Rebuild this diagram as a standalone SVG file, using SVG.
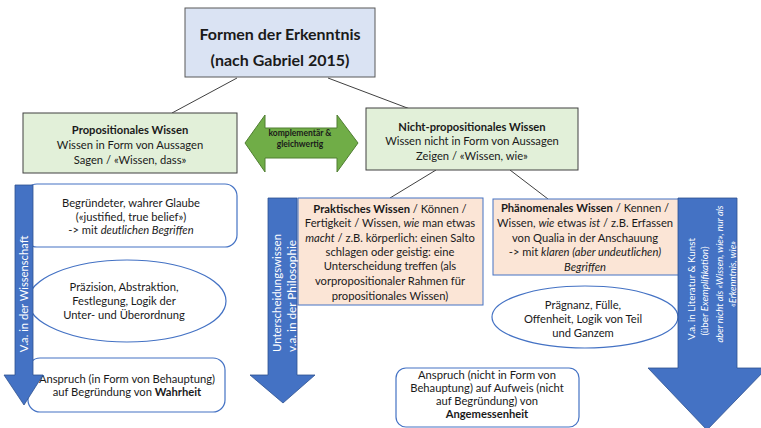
<svg xmlns="http://www.w3.org/2000/svg" width="761" height="428" viewBox="0 0 761 428">
<style>
text{font-family:Lato,"Liberation Sans",sans-serif;font-size:11.2px;fill:#1a1a1a;text-anchor:middle}
.b{font-weight:bold}
.i{font-style:italic}
.w{fill:#ffffff;font-size:11.2px}
.green{fill:#E2F0D9;stroke:#404040;stroke-width:1}
.orange{fill:#FBE5D6;stroke:#4472C4;stroke-width:1}
.wbox{fill:#ffffff;stroke:#4472C4;stroke-width:1.2}
.barrow{fill:#4472C4;stroke:#2F528F;stroke-width:0.8}
.conn{stroke:#404040;stroke-width:1;fill:none}
</style>
<rect width="761" height="428" fill="#ffffff"/>
<g id="connectors">
<line class="conn" x1="237" y1="78" x2="172" y2="113"/>
<line class="conn" x1="328" y1="78" x2="410" y2="109"/>
<line class="conn" x1="436" y1="170" x2="390" y2="198"/>
<line class="conn" x1="510" y1="170" x2="548" y2="199"/>
<g id="double-arrow">
<polygon points="245,143 265,115 265,128 337,128 337,115 358,143 337,172 337,158 265,158 265,172" fill="#70AD47" stroke="#507E32" stroke-width="1"/>
<text x="300" y="136" class="b" style="font-size:8.5px">komplementär &amp;</text>
<text x="300" y="147" class="b" style="font-size:8.5px">gleichwertig</text>
</g>
</g>
<g id="title">
<rect x="185" y="8" width="190" height="69" fill="#DAE3F3" stroke="#595959" stroke-width="1"/>
<text x="280" y="40" class="b" style="font-size:16px">Formen der Erkenntnis</text>
<text x="280" y="66" class="b" style="font-size:16px">(nach Gabriel 2015)</text>
</g>
<g id="propositional">
<rect class="green" x="23" y="113" width="214" height="60"/>
<text x="130" y="134" class="b">Propositionales Wissen</text>
<text x="130" y="149">Wissen in Form von Aussagen</text>
<text x="130" y="164">Sagen / «Wissen, dass»</text>
</g>
<g id="nonpropositional">
<rect class="green" x="366" y="108" width="212" height="62"/>
<text x="472" y="131" class="b">Nicht-propositionales Wissen</text>
<text x="472" y="145">Wissen nicht in Form von Aussagen</text>
<text x="472" y="160">Zeigen / «Wissen, wie»</text>
</g>
<g id="belief">
<rect class="wbox" x="25" y="184" width="212" height="63" rx="12"/>
<text x="131" y="207">Begründeter, wahrer Glaube</text>
<text x="131" y="221">(«justified, true belief»)</text>
<text x="131" y="234">-&gt; mit <tspan class="i">deutlichen Begriffen</tspan></text>
</g>
<g id="precision">
<ellipse cx="127" cy="301" rx="99" ry="41" fill="#ffffff" stroke="#4472C4" stroke-width="1.2"/>
<text x="124" y="291">Präzision, Abstraktion,</text>
<text x="124" y="305">Festlegung, Logik der</text>
<text x="124" y="319">Unter- und Überordnung</text>
</g>
<g id="truth-claim">
<rect class="wbox" x="28" y="358" width="197" height="54" rx="12"/>
<text x="127" y="383">Anspruch (in Form von Behauptung)</text>
<text x="127" y="396">auf Begründung von <tspan class="b">Wahrheit</tspan></text>
</g>
<g id="science-arrow">
<polygon class="barrow" points="15,185 33,185 33,375 43,375 24,405 4,375 15,375"/>
<text class="w" transform="translate(24,294) rotate(-90)" dy="4">V.a. in der Wissenschaft</text>
</g>
<g id="practical">
<rect class="orange" x="298" y="198" width="185" height="107"/>
<text x="390" y="213"><tspan class="b">Praktisches Wissen</tspan> / Können /</text>
<text x="390" y="227">Fertigkeit / Wissen, <tspan class="i">wie</tspan> man etwas</text>
<text x="390" y="242"><tspan class="i">macht</tspan> / z.B. körperlich: einen Salto</text>
<text x="390" y="256">schlagen oder geistig: eine</text>
<text x="390" y="270">Unterscheidung treffen (als</text>
<text x="390" y="285">vorpropositionaler Rahmen für</text>
<text x="390" y="300">propositionales Wissen)</text>
</g>
<g id="philosophy-arrow">
<polygon class="barrow" points="268,198 297,198 297,375 315,375 283,403 250,375 268,375"/>
<text class="w" style="font-size:10.5px" transform="translate(277,293) rotate(-90)" dy="4" textLength="118" lengthAdjust="spacingAndGlyphs">Unterscheidungswissen</text>
<text class="w" style="font-size:10.5px" transform="translate(292,296) rotate(-90)" dy="4" textLength="112" lengthAdjust="spacingAndGlyphs">v.a. in der Philosophie</text>
</g>
<g id="phenomenal">
<rect class="orange" x="493" y="199" width="186" height="76"/>
<text x="585" y="212"><tspan class="b">Phänomenales Wissen</tspan> / Kennen /</text>
<text x="585" y="227">Wissen, <tspan class="i">wie</tspan> etwas <tspan class="i">ist</tspan> / z.B. Erfassen</text>
<text x="585" y="242">von Qualia in der Anschauung</text>
<text x="585" y="256">-&gt; mit <tspan class="i">klaren (aber undeutlichen)</tspan></text>
<text x="585" y="271" class="i">Begriffen</text>
</g>
<g id="pregnance">
<ellipse cx="585" cy="317" rx="93" ry="31" fill="#ffffff" stroke="#4472C4" stroke-width="1.2"/>
<text x="583" y="309">Prägnanz, Fülle,</text>
<text x="583" y="323">Offenheit, Logik von Teil</text>
<text x="583" y="337">und Ganzem</text>
</g>
<g id="adequacy-claim">
<rect class="wbox" x="396" y="368" width="183" height="59" rx="10"/>
<text x="487" y="379">Anspruch (nicht in Form von</text>
<text x="487" y="392">Behauptung) auf Aufweis (nicht</text>
<text x="487" y="405">auf Begründung) von</text>
<text x="487" y="418" class="b">Angemessenheit</text>
</g>
<g id="art-arrow">
<polygon class="barrow" points="678,198 737,198 737,368 767,368 707,430 648,368 678,368"/>
<text class="w" style="font-size:9.8px" transform="translate(691,289) rotate(-90)" dy="3.5">V.a. in Literatur &amp; Kunst</text>
<text class="w" style="font-size:9.8px" transform="translate(704,291) rotate(-90)" dy="3.5">(über <tspan class="i">Exemplifikation</tspan>)</text>
<text class="w i" style="font-size:9.4px" transform="translate(720,274) rotate(-90)" dy="3.3">aber nicht als «Wissen, wie», nur als</text>
<text class="w i" style="font-size:9.4px" transform="translate(733,274) rotate(-90)" dy="3.3">«Erkenntnis, wie»</text>
</g>
</svg>
